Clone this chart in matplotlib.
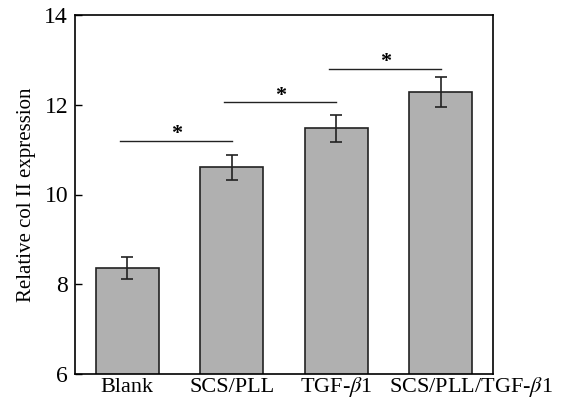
import matplotlib
matplotlib.use("Agg")
import matplotlib.pyplot as plt
from matplotlib.transforms import ScaledTranslation

categories = ["Blank", "SCS/PLL", "TGF-$\\beta$1", "SCS/PLL/TGF-$\\beta$1"]
values = [8.36, 10.61, 11.48, 12.28]
errors = [0.25, 0.28, 0.30, 0.33]
sig_pairs = [(0, 1), (1, 2), (2, 3)]
sig_heights = [11.20, 12.06, 12.80]
yticks = [6, 8, 10, 12, 14]

plt.rcParams['font.family'] = ['Liberation Serif', 'DejaVu Serif']
plt.rcParams['mathtext.fontset'] = 'stix'

fig = plt.figure(figsize=(5.63, 3.98), dpi=100)
ax = fig.add_axes([75/563, 1-374/398, (493-75)/563, (374-15)/398])

x = list(range(len(categories)))
ax.bar(x, values, width=0.6, color='#b0b0b0', edgecolor='#222222', linewidth=1.2,
       yerr=errors, error_kw=dict(ecolor='#222222', elinewidth=1.2, capsize=4, capthick=1.2))

for (a, b), h in zip(sig_pairs, sig_heights):
    ax.plot([a - 0.07, b + 0.0], [h, h], color='#222222', lw=1.0)
    ax.annotate('*', xy=((a + b) / 2 - 0.03, h), xytext=(0, -2.5), textcoords='offset points',
                ha='center', va='bottom', fontsize=16, fontweight='bold')

ax.set_xlim(-0.5, 3.5)
ax.set_ylim(6, 14)
ax.set_yticks(yticks)
ax.set_xticks(x)
ax.set_xticklabels(categories, fontsize=16)
ax.tick_params(axis='y', labelsize=17, direction='in', length=5, width=1.0, pad=5)
ax.tick_params(axis='x', length=0, pad=13)
for lbl in ax.get_xticklabels():
    lbl.set_va('baseline')
last = ax.get_xticklabels()[-1]
last.set_transform(last.get_transform() + ScaledTranslation(0.30, 0, fig.dpi_scale_trans))
ax.set_ylabel('Relative col II expression', fontsize=15, labelpad=6)
for s in ax.spines.values():
    s.set_linewidth(1.2)

fig.savefig('out.png', dpi=100)
